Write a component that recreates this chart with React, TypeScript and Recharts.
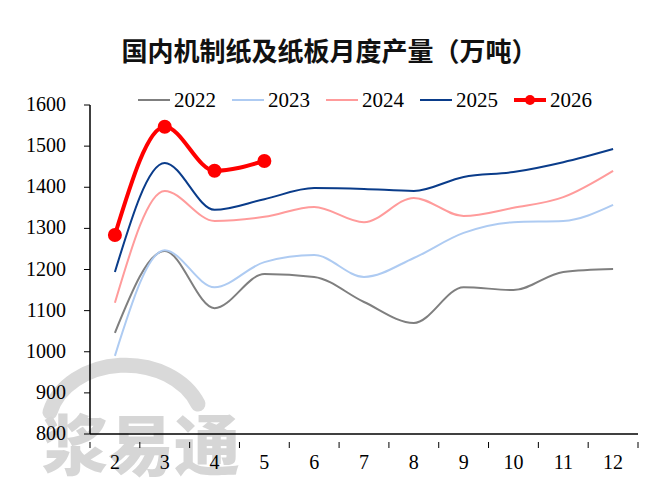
import React from 'react';
import { LineChart, Line, XAxis, YAxis } from 'recharts';

// months (x categories)
const months = [2, 3, 4, 5, 6, 7, 8, 9, 10, 11, 12];

// monthly output, 10k tons
const s2022 = [1046, 1245, 1106, 1189, 1182, 1121, 1070, 1157, 1150, 1194, 1201];
const s2023 = [990, 1247, 1157, 1218, 1235, 1182, 1228, 1289, 1315, 1318, 1357];
const s2024 = [1119, 1391, 1318, 1328, 1352, 1315, 1374, 1330, 1350, 1376, 1440];
const s2025 = [1194, 1459, 1345, 1371, 1398, 1396, 1391, 1425, 1437, 1461, 1493];
const s2026 = [1284, 1547, 1440, 1464];

const yTicks = [800, 900, 1000, 1100, 1200, 1300, 1400, 1500, 1600];
const xTicks = [1.5, 2, 2.5, 3, 3.5, 4, 4.5, 5, 5.5, 6, 6.5, 7, 7.5, 8, 8.5, 9, 9.5, 10, 10.5, 11, 11.5, 12, 12.5];

const series = [
  { key: 'y2022', name: '2022', color: '#7f7f7f', width: 2, dot: false },
  { key: 'y2023', name: '2023', color: '#aecbf2', width: 2, dot: false },
  { key: 'y2024', name: '2024', color: '#ff9b9b', width: 2, dot: false },
  { key: 'y2025', name: '2025', color: '#0a3c8a', width: 2, dot: false },
  { key: 'y2026', name: '2026', color: '#ff0000', width: 4, dot: true },
];

const data = months.map((m, i) => ({
  m,
  y2022: s2022[i],
  y2023: s2023[i],
  y2024: s2024[i],
  y2025: s2025[i],
  y2026: s2026[i],
}));

const serif = 'Liberation Serif';

// integer values get a label, half values a tick mark between categories
const XTick = (props: any) => {
  const { x, y, payload } = props;
  const v = payload.value;
  if (Number.isInteger(v)) {
    return (
      <text x={x} y={y + 27} textAnchor="middle" fontFamily={serif} fontSize={20} fill="#000">
        {v}
      </text>
    );
  }
  return <line x1={x} x2={x} y1={y} y2={y + 6} stroke="#000" strokeWidth={1} />;
};

const YTick = (props: any) => {
  const { x, y, payload } = props;
  return (
    <text x={x} y={y + 6} textAnchor="end" fontFamily={serif} fontSize={20} fill="#000">
      {payload.value}
    </text>
  );
};

export default function App() {
  return (
    <div style={{ position: 'absolute', left: 0, top: 0, width: 649, height: 499, background: '#fff' }}>
      <div
        style={{
          position: 'absolute',
          top: 32,
          left: 5,
          width: 649,
          textAlign: 'center',
          fontFamily: '"Noto Sans CJK SC", sans-serif',
          fontWeight: 700,
          fontSize: 26,
          lineHeight: '36px',
          color: '#111',
        }}
      >
        国内机制纸及纸板月度产量（万吨）
      </div>
      {/* watermark */}
      <svg style={{ position: 'absolute', left: 0, top: 0 }} width={649} height={499}>
        <path d="M 50 412 A 78 62 0 0 1 198 404" fill="none" stroke="#d9d9d9" strokeWidth={15} strokeLinecap="round" />
        <text x={42} y={470} fontFamily="Noto Sans CJK SC" fontWeight={900} fontSize={66} fill="#d6d6d6">
          浆易通
        </text>
      </svg>
      <div style={{ position: 'absolute', left: 0, top: 0 }}>
        <LineChart width={649} height={499} data={data} margin={{ top: 105, right: 11, left: 0, bottom: 35 }}>
          <XAxis
            dataKey="m"
            type="number"
            domain={[1.5, 12.5]}
            ticks={xTicks}
            interval={0}
            tick={<XTick />}
            tickLine={false}
            axisLine={{ stroke: '#000', strokeWidth: 1.5 }}
            height={30}
          />
          <YAxis
            domain={[800, 1600]}
            ticks={yTicks}
            interval={0}
            width={90}
            tickSize={6}
            tickMargin={18}
            tickLine={{ stroke: '#000' }}
            axisLine={{ stroke: '#000', strokeWidth: 1.5 }}
            tick={<YTick />}
          />
          {series.map((s) => (
            <Line
              key={s.key}
              dataKey={s.key}
              name={s.name}
              type="monotone"
              stroke={s.color}
              strokeWidth={s.width}
              dot={s.dot ? { r: 5, fill: s.color, stroke: s.color } : false}
              activeDot={false}
              connectNulls={false}
              isAnimationActive={false}
            />
          ))}
        </LineChart>
      </div>
      {/* legend */}
      <div
        style={{
          position: 'absolute',
          top: 87,
          left: 138,
          display: 'flex',
          fontFamily: serif,
          fontSize: 21,
          lineHeight: '26px',
          color: '#000',
        }}
      >
        {series.map((s) => (
          <div key={s.key} style={{ display: 'flex', alignItems: 'center', width: 94 }}>
            <svg width={32} height={14} style={{ marginRight: 4 }}>
              <line x1={0} x2={32} y1={7} y2={7} stroke={s.color} strokeWidth={s.width} />
              {s.dot && <circle cx={16} cy={7} r={5} fill={s.color} />}
            </svg>
            <span>{s.name}</span>
          </div>
        ))}
      </div>
    </div>
  );
}
